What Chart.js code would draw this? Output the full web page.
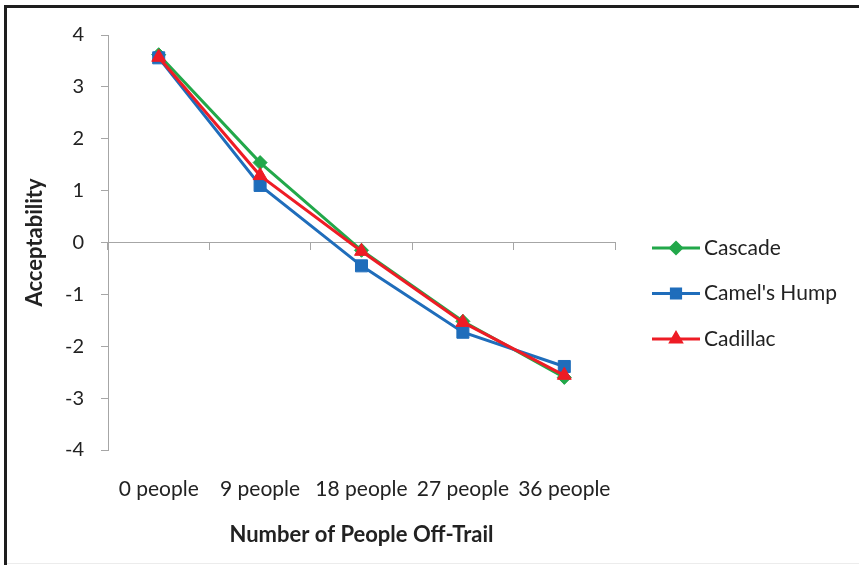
<!DOCTYPE html>
<html>
<head>
<meta charset="utf-8">
<script src="https://cdn.jsdelivr.net/npm/chart.js@4.4.1/dist/chart.umd.min.js"></script>
<style>
  html, body { margin: 0; padding: 0; background: #fff; }
  canvas { display: block; }
</style>
</head>
<body>
<canvas id="chart" width="859" height="565"></canvas>
<script>
// Categories on the x axis
const categories = ['0 people', '9 people', '18 people', '27 people', '36 people'];

// Mean acceptability per site
const cascade    = [3.62, 1.54, -0.15, -1.52, -2.60];
const camelsHump = [3.56, 1.10, -0.45, -1.73, -2.39];
const cadillac   = [3.57, 1.29, -0.17, -1.54, -2.56];

// Y axis range
const yMin = -4;
const yMax = 4;
const yStep = 1;

const FONT = 'Lato, "Open Sans", sans-serif';
const AXIS_GREY = '#a6a6a6';
const TEXT = '#222222';

// Frame around the figure
const framePlugin = {
  id: 'frame',
  beforeDraw(chart) {
    const ctx = chart.ctx;
    ctx.save();
    ctx.fillStyle = '#ffffff';
    ctx.fillRect(0, 0, chart.width, chart.height);
    ctx.fillStyle = '#1e1e1e';
    ctx.fillRect(4, 5, chart.width - 4, 3);   // top rule
    ctx.fillRect(4, 5, 3, chart.height - 5);  // left rule
    ctx.fillStyle = '#ececec';
    ctx.fillRect(7, chart.height - 2, chart.width - 7, 1);
    ctx.restore();
  }
};

// Legend entries drawn as a line segment with the series marker in the middle
const lineLegendPlugin = {
  id: 'lineLegend',
  afterDraw(chart, args, opts) {
    const ctx = chart.ctx;
    chart.data.datasets.forEach((ds, i) => {
      const y = opts.top + i * opts.spacing;
      const x0 = opts.left;
      const x1 = opts.left + opts.lineLength;
      ctx.save();
      ctx.strokeStyle = ds.borderColor;
      ctx.lineWidth = ds.borderWidth;
      ctx.beginPath();
      ctx.moveTo(x0, y);
      ctx.lineTo(x1, y);
      ctx.stroke();
      ctx.fillStyle = ds.pointBackgroundColor;
      ctx.strokeStyle = ds.pointBorderColor;
      Chart.helpers.drawPoint(ctx, {
        pointStyle: ds.pointStyle,
        radius: opts.markerRadius[i],
        rotation: 0,
        borderWidth: 1
      }, (x0 + x1) / 2, y);
      ctx.fillStyle = TEXT;
      ctx.font = opts.font;
      ctx.textAlign = 'left';
      ctx.textBaseline = 'middle';
      ctx.fillText(ds.label, x1 + 4, y);
      ctx.restore();
    });
  }
};

function series(label, data, color, pointStyle, radius, order) {
  return {
    label,
    data,
    borderColor: color,
    backgroundColor: color,
    pointBackgroundColor: color,
    pointBorderColor: color,
    borderWidth: 3,
    pointStyle,
    pointRadius: radius,
    pointHoverRadius: radius,
    pointBorderWidth: 1,
    tension: 0,
    fill: false,
    order
  };
}

new Chart(document.getElementById('chart'), {
  type: 'line',
  data: {
    labels: categories,
    datasets: [
      series('Cascade', cascade, '#22a84a', 'rectRot', 7, 2),
      series("Camel's Hump", camelsHump, '#1f6dbb', 'rect', 8.5, 1),
      series('Cadillac', cadillac, '#ee1c25', 'triangle', 8, 0)
    ]
  },
  options: {
    responsive: false,
    animation: false,
    events: [],
    layout: { padding: { left: 8, right: 244, top: 35, bottom: 0 } },
    plugins: {
      legend: { display: false },
      tooltip: { enabled: false },
      lineLegend: {
        left: 652,
        top: 248,
        spacing: 45.5,
        lineLength: 48,
        markerRadius: [5.5, 6.5, 6],
        font: '21px ' + FONT
      }
    },
    scales: {
      x: {
        type: 'category',
        position: 'bottom',
        offset: true,
        grid: { display: false, drawTicks: false },
        border: { display: false },
        ticks: {
          color: TEXT,
          font: { family: FONT, size: 21 },
          padding: 27,
          maxRotation: 0,
          autoSkip: false
        },
        title: {
          display: true,
          text: 'Number of People Off-Trail',
          color: TEXT,
          font: { family: FONT, size: 22, weight: 'bold' },
          padding: { top: 0, bottom: 17 }
        },
        afterFit(scale) { scale.height = 115; }
      },
      xZero: {
        type: 'category',
        labels: categories,
        position: { y: 0 },
        offset: true,
        grid: {
          display: true,
          drawOnChartArea: false,
          offset: true,
          tickLength: 7,
          color: AXIS_GREY,
          lineWidth: 1
        },
        border: { display: true, color: AXIS_GREY, width: 1 },
        ticks: { display: false }
      },
      y: {
        min: yMin,
        max: yMax,
        position: 'left',
        grid: {
          display: true,
          drawOnChartArea: false,
          tickLength: 7,
          color: AXIS_GREY
        },
        border: { display: true, color: AXIS_GREY, width: 1 },
        ticks: {
          stepSize: yStep,
          color: TEXT,
          font: { family: FONT, size: 20 },
          padding: 17
        },
        title: {
          display: true,
          text: 'Acceptability',
          color: TEXT,
          font: { family: FONT, size: 22, weight: 'bold' },
          padding: { top: 14, bottom: 0 }
        },
        afterFit(scale) { scale.width = 100; }
      }
    }
  },
  plugins: [framePlugin, lineLegendPlugin]
});
</script>
</body>
</html>
